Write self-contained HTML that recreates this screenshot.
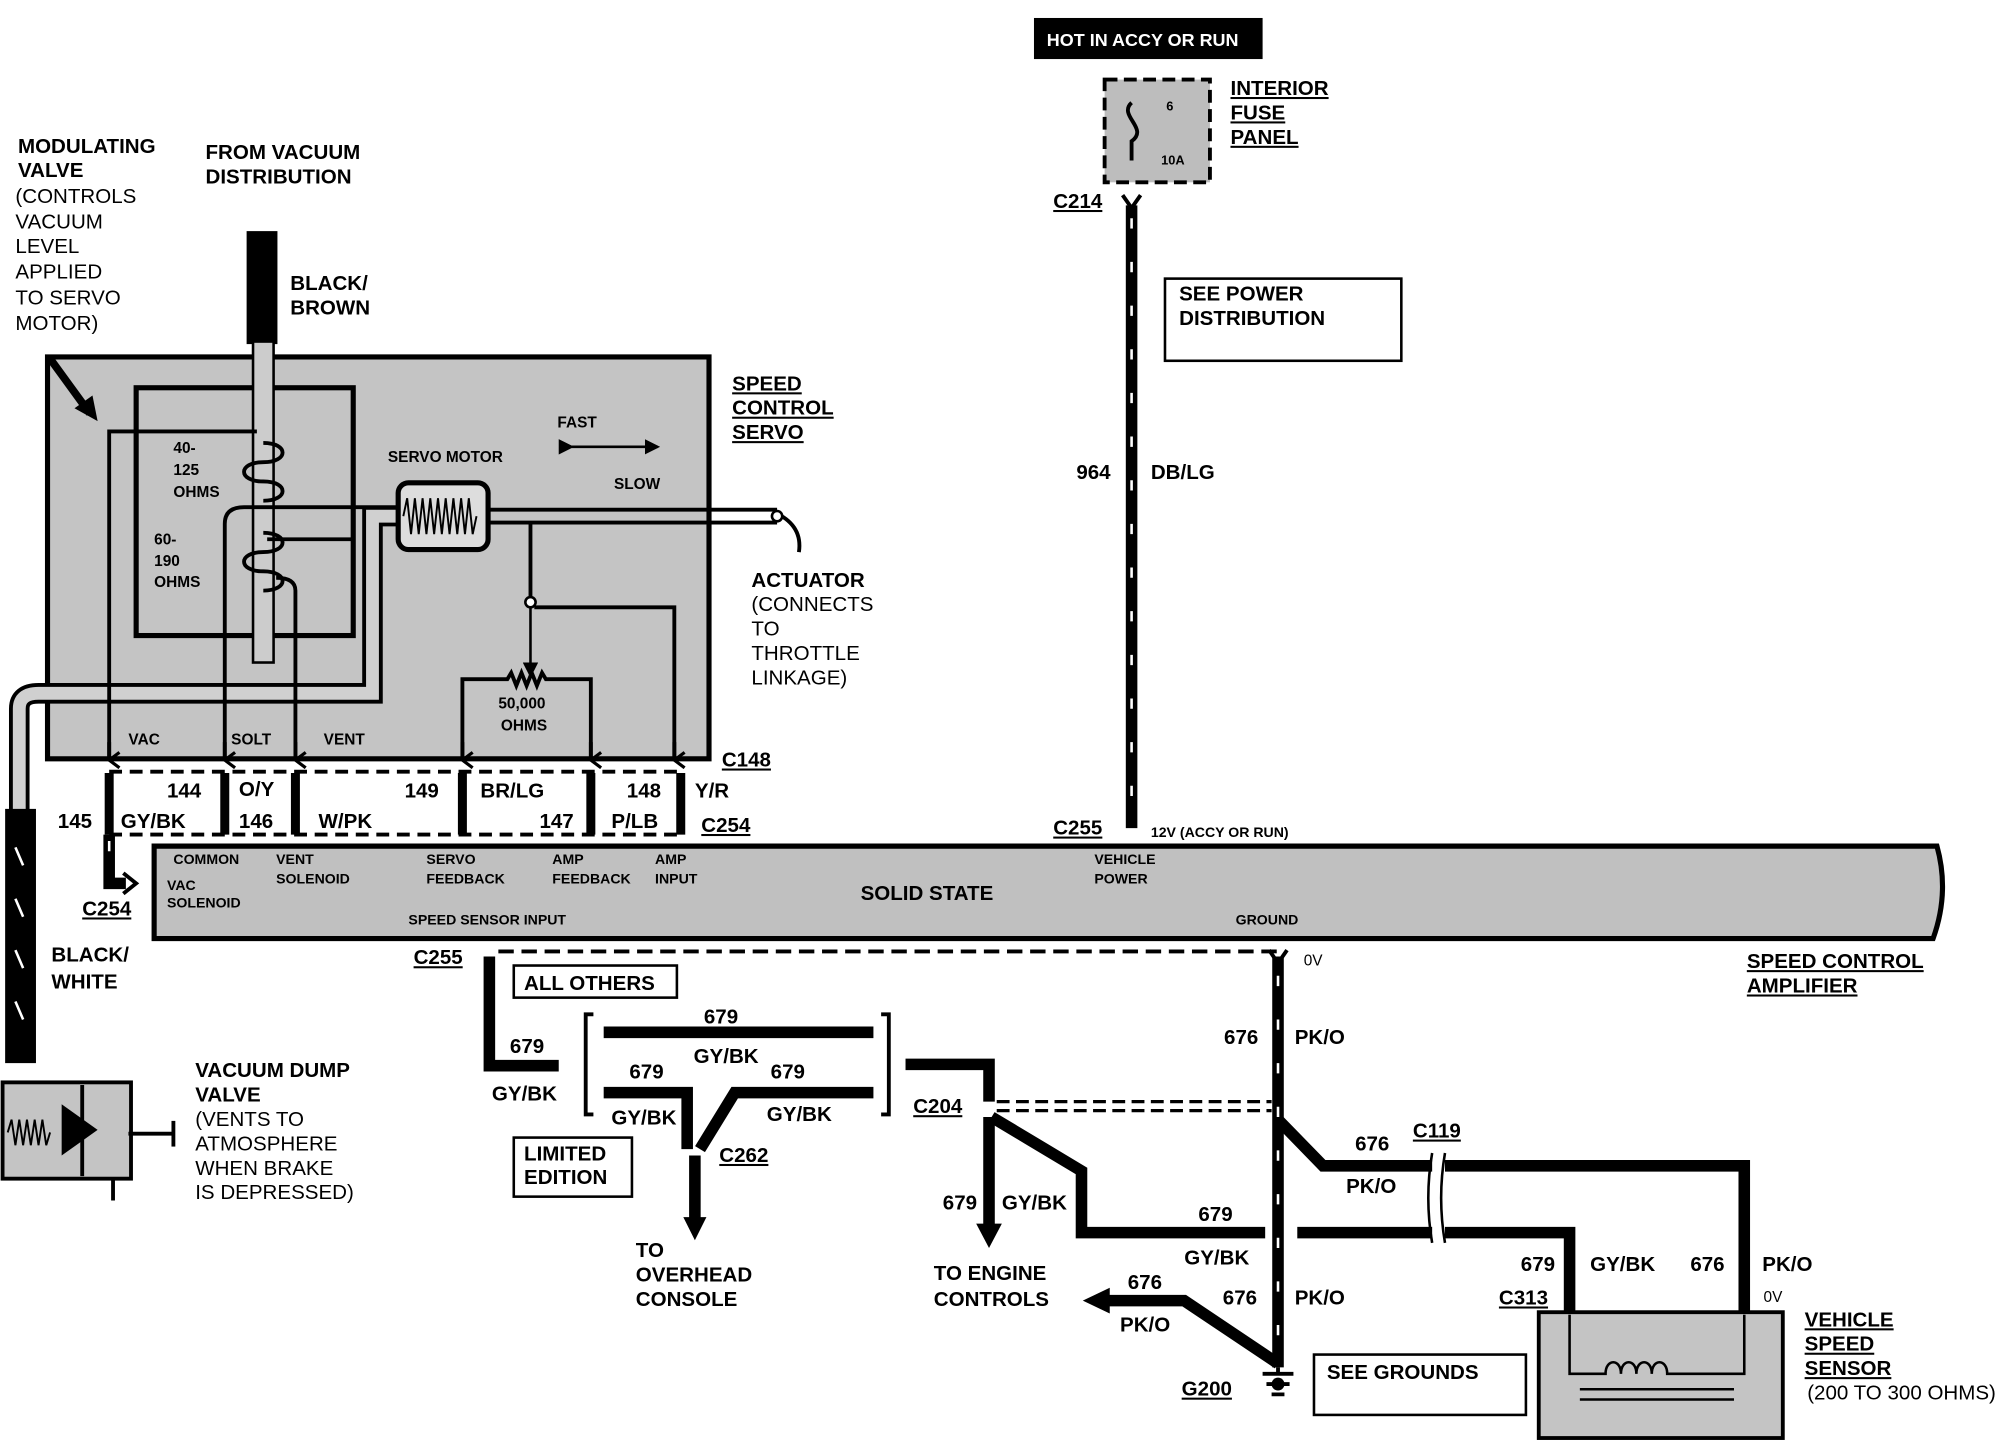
<!DOCTYPE html>
<html><head><meta charset="utf-8"><style>
html,body{margin:0;padding:0;background:#fff;}
svg{display:block;}
text{font-family:"Liberation Sans",sans-serif;font-weight:bold;fill:#000;}
.t{font-size:16px;}
.s{font-size:12px;}
.u{text-decoration:underline;}
.w{stroke:#000;stroke-width:9;fill:none;}
.d{stroke:#fff;stroke-width:2;fill:none;stroke-dasharray:8 26;}
.l{stroke:#000;stroke-width:3;fill:none;}
</style></head><body>
<svg width="2014" height="1456" viewBox="0 0 1568 1134" preserveAspectRatio="none">
<defs>
<marker id="ar" markerWidth="6" markerHeight="6" refX="5" refY="3" orient="auto" markerUnits="strokeWidth"><path d="M0,0 L6,3 L0,6 Z" fill="#000"/></marker>
<marker id="va" markerWidth="14" markerHeight="10" refX="7" refY="9" orient="auto" markerUnits="userSpaceOnUse"><path d="M1,1 L7,9 L13,1" stroke="#000" stroke-width="2.5" fill="none"/></marker>
</defs>

<!-- top -->
<rect x="805" y="14" width="178" height="32" fill="#000"/>
<text x="815" y="36" style="font-size:14px;fill:#fff">HOT IN ACCY OR RUN</text>
<rect x="860" y="62" width="82" height="80" fill="#bdbdbd" stroke="#000" stroke-width="3" stroke-dasharray="10 5"/>
<text x="908" y="86" class="s" style="font-size:10px">6</text>
<text x="904" y="128" class="s" style="font-size:10px">10A</text>
<path d="M881,80 C870,90 895,100 881,110 L881,125" class="l" stroke-width="2"/>
<text x="958" y="74" class="t u">INTERIOR</text>
<text x="958" y="93" class="t u">FUSE</text>
<text x="958" y="112" class="t u">PANEL</text>
<text x="820" y="162" class="t u">C214</text>
<path d="M874,152 L881,162 L888,152" class="l"/>
<line x1="881" y1="160" x2="881" y2="645" class="w"/>
<line x1="881" y1="170" x2="881" y2="645" class="d"/>
<rect x="907" y="217" width="184" height="64" fill="#fff" stroke="#000" stroke-width="2"/>
<text x="918" y="234" class="t">SEE POWER</text>
<text x="918" y="253" class="t">DISTRIBUTION</text>
<text x="838" y="373" class="t">964</text>
<text x="896" y="373" class="t">DB/LG</text>
<text x="820" y="650" class="t u">C255</text>
<text x="896" y="652" class="s" style="font-size:11px">12V (ACCY OR RUN)</text>

<!-- left text -->
<text x="14" y="119" class="t">MODULATING</text>
<text x="14" y="138" class="t">VALVE</text>
<text x="12" y="158" class="t" style="font-weight:normal">(CONTROLS</text>
<text x="12" y="178" class="t" style="font-weight:normal">VACUUM</text>
<text x="12" y="197" class="t" style="font-weight:normal">LEVEL</text>
<text x="12" y="217" class="t" style="font-weight:normal">APPLIED</text>
<text x="12" y="237" class="t" style="font-weight:normal">TO SERVO</text>
<text x="12" y="257" class="t" style="font-weight:normal">MOTOR)</text>
<text x="160" y="124" class="t">FROM VACUUM</text>
<text x="160" y="143" class="t">DISTRIBUTION</text>
<text x="226" y="226" class="t">BLACK/</text>
<text x="226" y="245" class="t">BROWN</text>

<!-- servo box -->
<rect x="37" y="278" width="515" height="313" fill="#c4c4c4" stroke="#000" stroke-width="4"/>
<path d="M38,278 L70,322" stroke="#000" stroke-width="6"/>
<path d="M76,328 L58,318 L72,308 Z" fill="#000"/>
<rect x="106" y="302" width="169" height="193" fill="none" stroke="#000" stroke-width="4"/>
<rect x="192" y="180" width="24" height="88" fill="#000"/>
<rect x="197" y="266" width="16" height="250" fill="#ccc" stroke="#000" stroke-width="2"/>
<path d="M205,345 c20,0 20,15 0,15 c-20,0 -20,15 0,15 c20,0 20,15 0,15" class="l"/>
<path d="M205,415 c20,0 20,15 0,15 c-20,0 -20,15 0,15 c20,0 20,15 0,15" class="l"/>
<text x="135" y="353" class="s">40-</text>
<text x="135" y="370" class="s">125</text>
<text x="135" y="387" class="s">OHMS</text>
<text x="120" y="424" class="s">60-</text>
<text x="120" y="441" class="s">190</text>
<text x="120" y="457" class="s">OHMS</text>
<!-- tube -->
<path d="M15,632 V552 Q15,540 30,540 H290 V402 H312" fill="none" stroke="#000" stroke-width="16"/>
<path d="M15,632 V552 Q15,540 30,540 H290 V402 H312" fill="none" stroke="#d0d0d0" stroke-width="10"/>
<!-- wires inside -->
<path d="M85,590 V336 H200" class="l"/>
<path d="M175,590 V408 Q175,395 190,395 H310" class="l"/>
<path d="M230,590 V460 Q230,450 215,450" class="l"/>
<path d="M208,420 H275" class="l"/>
<line x1="85" y1="578" x2="85" y2="592" class="l" marker-end="url(#va)"/>
<line x1="175" y1="578" x2="175" y2="592" class="l" marker-end="url(#va)"/>
<line x1="230" y1="578" x2="230" y2="592" class="l" marker-end="url(#va)"/>
<text x="100" y="580" class="s">VAC</text>
<text x="180" y="580" class="s">SOLT</text>
<text x="252" y="580" class="s">VENT</text>
<!-- servo motor -->
<rect x="310" y="376" width="70" height="52" rx="8" fill="#ddd" stroke="#000" stroke-width="4"/>
<path d="M314,402 l3,-14 l3,28 l3,-28 l3,28 l3,-28 l3,28 l3,-28 l3,28 l3,-28 l3,28 l3,-28 l3,28 l3,-28 l3,28 l3,-28 l3,28 l3,-28 l3,28 l3,-14" stroke="#000" stroke-width="1.5" fill="none"/>
<text x="302" y="360" class="s">SERVO MOTOR</text>
<text x="434" y="333" class="s">FAST</text>
<text x="478" y="381" class="s">SLOW</text>
<line x1="445" y1="348" x2="512" y2="348" stroke="#000" stroke-width="2" marker-end="url(#ar)" marker-start="url(#ar)"/>
<path d="M380,397 H605 M380,407 H605" class="l"/>
<path d="M605,400 Q625,410 622,430" class="l"/>
<circle cx="605" cy="402" r="4" fill="#fff" stroke="#000" stroke-width="2"/>
<path d="M413,408 V466" class="l"/>
<circle cx="413" cy="469" r="4" fill="#fff" stroke="#000" stroke-width="2"/>
<line x1="413" y1="473" x2="413" y2="526" stroke="#000" stroke-width="2" marker-end="url(#ar)"/>
<path d="M416,473 H525 V590" class="l"/>
<path d="M360,590 V529 H395 l3,-5 l4,10 l4,-10 l4,10 l4,-10 l4,10 l4,-10 l3,5 H460 V590" class="l"/>
<line x1="360" y1="578" x2="360" y2="592" class="l" marker-end="url(#va)"/>
<line x1="460" y1="578" x2="460" y2="592" class="l" marker-end="url(#va)"/>
<line x1="525" y1="578" x2="525" y2="592" class="l" marker-end="url(#va)"/>
<text x="388" y="552" class="s">50,000</text>
<text x="390" y="569" class="s">OHMS</text>
<text x="570" y="304" class="t u">SPEED</text>
<text x="570" y="323" class="t u">CONTROL</text>
<text x="570" y="342" class="t u">SERVO</text>
<text x="585" y="457" class="t">ACTUATOR</text>
<text x="585" y="476" class="t" style="font-weight:normal">(CONNECTS</text>
<text x="585" y="495" class="t" style="font-weight:normal">TO</text>
<text x="585" y="514" class="t" style="font-weight:normal">THROTTLE</text>
<text x="585" y="533" class="t" style="font-weight:normal">LINKAGE)</text>
<text x="562" y="597" class="t u">C148</text>

<!-- connector row -->
<path d="M85,601 H530 M85,650 H530" stroke="#000" stroke-width="3" stroke-dasharray="10 6"/>
<g stroke="#000" stroke-width="7">
<line x1="85" y1="602" x2="85" y2="650"/><line x1="175" y1="602" x2="175" y2="650"/>
<line x1="230" y1="602" x2="230" y2="650"/><line x1="360" y1="602" x2="360" y2="650"/>
<line x1="460" y1="602" x2="460" y2="650"/><line x1="530" y1="602" x2="530" y2="650"/>
</g>
<text x="130" y="621" class="t">144</text><text x="186" y="620" class="t">O/Y</text>
<text x="45" y="645" class="t">145</text><text x="94" y="645" class="t">GY/BK</text>
<text x="186" y="645" class="t">146</text><text x="248" y="645" class="t">W/PK</text>
<text x="315" y="621" class="t">149</text><text x="374" y="621" class="t">BR/LG</text>
<text x="420" y="645" class="t">147</text><text x="488" y="621" class="t">148</text>
<text x="476" y="645" class="t">P/LB</text><text x="541" y="621" class="t">Y/R</text>
<text x="546" y="648" class="t u">C254</text>
<path d="M85,650 V688 H98" class="w" stroke-width="7"/>
<line x1="85" y1="655" x2="85" y2="688" class="d"/>
<path d="M96,680 L106,688 L96,696" class="l"/>
<text x="64" y="713" class="t u">C254</text>

<!-- amplifier -->
<path d="M120,659 H1508 Q1518,695 1505,731 H120 Z" fill="#c0c0c0" stroke="#000" stroke-width="4"/>
<text x="135" y="673" class="s" style="font-size:11px">COMMON</text><text x="130" y="693" class="s" style="font-size:11px">VAC</text><text x="130" y="707" class="s" style="font-size:11px">SOLENOID</text>
<text x="215" y="673" class="s" style="font-size:11px">VENT</text><text x="215" y="688" class="s" style="font-size:11px">SOLENOID</text>
<text x="332" y="673" class="s" style="font-size:11px">SERVO</text><text x="332" y="688" class="s" style="font-size:11px">FEEDBACK</text>
<text x="430" y="673" class="s" style="font-size:11px">AMP</text><text x="430" y="688" class="s" style="font-size:11px">FEEDBACK</text>
<text x="510" y="673" class="s" style="font-size:11px">AMP</text><text x="510" y="688" class="s" style="font-size:11px">INPUT</text>
<text x="318" y="720" class="s" style="font-size:11px">SPEED SENSOR INPUT</text>
<text x="852" y="673" class="s" style="font-size:11px">VEHICLE</text><text x="852" y="688" class="s" style="font-size:11px">POWER</text>
<text x="962" y="720" class="s" style="font-size:11px">GROUND</text>
<text x="670" y="701" class="t">SOLID STATE</text>
<text x="1360" y="754" class="t u">SPEED CONTROL</text>
<text x="1360" y="773" class="t u">AMPLIFIER</text>

<!-- left black/white -->
<rect x="4" y="630" width="24" height="198" fill="#000"/>
<path d="M12,660 l6,14 M12,700 l6,14 M12,740 l6,14 M12,780 l6,14" stroke="#fff" stroke-width="2"/>
<text x="40" y="749" class="t">BLACK/</text>
<text x="40" y="770" class="t">WHITE</text>
<rect x="2" y="843" width="100" height="75" fill="#c4c4c4" stroke="#000" stroke-width="3"/>
<path d="M6,882 l3,-10 l3,20 l3,-20 l3,20 l3,-20 l3,20 l3,-20 l3,20 l3,-20 l3,20 l3,-10" stroke="#000" stroke-width="1.5" fill="none"/>
<path d="M48,860 L76,880 L48,900 Z" fill="#000"/>
<line x1="64" y1="845" x2="64" y2="916" class="l"/>
<line x1="100" y1="883" x2="135" y2="883" class="l"/>
<line x1="135" y1="873" x2="135" y2="893" class="l"/>
<line x1="88" y1="918" x2="88" y2="935" class="l"/>
<text x="152" y="839" class="t">VACUUM DUMP</text>
<text x="152" y="858" class="t">VALVE</text>
<text x="152" y="877" class="t" style="font-weight:normal">(VENTS TO</text>
<text x="152" y="896" class="t" style="font-weight:normal">ATMOSPHERE</text>
<text x="152" y="915" class="t" style="font-weight:normal">WHEN BRAKE</text>
<text x="152" y="934" class="t" style="font-weight:normal">IS DEPRESSED)</text>

<!-- bottom -->
<text x="322" y="751" class="t u">C255</text>
<path d="M388,741 H995" stroke="#000" stroke-width="3" stroke-dasharray="12 6"/>
<path d="M381,745 V830 H435" class="w" stroke-width="8"/>
<text x="397" y="820" class="t">679</text>
<text x="383" y="857" class="t">GY/BK</text>
<rect x="400" y="752" width="127" height="25" fill="#fff" stroke="#000" stroke-width="2"/>
<text x="408" y="771" class="t">ALL OTHERS</text>
<path d="M462,790 H456 V868 H462 M686,790 H692 V868 H686" class="l" stroke-width="2.5"/>
<path d="M470,804 H680" class="w" stroke-width="9"/>
<path d="M470,851 H535 V895 M680,851 H572 L545,895" class="w" stroke-width="9"/>
<line x1="541" y1="900" x2="541" y2="950" class="w" stroke-width="8"/>
<path d="M532,948 L550,948 L541,966 Z" fill="#000"/>
<text x="548" y="797" class="t">679</text><text x="540" y="828" class="t">GY/BK</text>
<text x="490" y="840" class="t">679</text><text x="600" y="840" class="t">679</text>
<text x="476" y="876" class="t">GY/BK</text><text x="597" y="873" class="t">GY/BK</text>
<rect x="400" y="886" width="92" height="46" fill="#fff" stroke="#000" stroke-width="2"/>
<text x="408" y="904" class="t">LIMITED</text><text x="408" y="922" class="t">EDITION</text>
<text x="560" y="905" class="t u">C262</text>
<text x="495" y="979" class="t">TO</text><text x="495" y="998" class="t">OVERHEAD</text><text x="495" y="1017" class="t">CONSOLE</text>

<path d="M705,829 H770 V858" class="w" stroke-width="8"/>
<text x="711" y="867" class="t u">C204</text>
<path d="M776,858 H990 M776,865 H990" stroke="#000" stroke-width="2.5" stroke-dasharray="10 5"/>
<line x1="770" y1="870" x2="770" y2="955" class="w" stroke-width="8"/>
<path d="M760,953 L780,953 L770,972 Z" fill="#000"/>
<path d="M772,870 L842,912 V960 H985 M1010,960 H1115" class="w" stroke-width="8"/>
<text x="734" y="942" class="t">679</text><text x="780" y="942" class="t">GY/BK</text>
<text x="933" y="951" class="t">679</text><text x="922" y="985" class="t">GY/BK</text>
<text x="727" y="997" class="t">TO ENGINE</text><text x="727" y="1017" class="t">CONTROLS</text>

<line x1="995" y1="745" x2="995" y2="1065" class="w" stroke-width="8"/>
<line x1="995" y1="760" x2="995" y2="1065" class="d"/>
<path d="M988,740 L995,750 L1002,740" class="l"/>
<text x="1015" y="752" class="s" style="font-weight:normal">0V</text>
<text x="953" y="813" class="t">676</text><text x="1008" y="813" class="t">PK/O</text>
<path d="M995,872 L1030,908 H1115 M1125,908 H1358 V1022 M1125,960 H1222 V1022" class="w" stroke-width="8"/>
<path d="M1115,898 q-6,35 0,70 M1125,898 q-6,35 0,70" stroke="#000" stroke-width="2" fill="none"/>
<text x="1055" y="896" class="t">676</text><text x="1100" y="886" class="t u">C119</text>
<text x="1048" y="929" class="t">PK/O</text>
<path d="M995,1062 L922,1013 H862" class="w" stroke-width="8"/>
<path d="M864,1003 L864,1023 L843,1013 Z" fill="#000"/>
<text x="878" y="1004" class="t">676</text><text x="872" y="1037" class="t">PK/O</text>
<text x="952" y="1016" class="t">676</text><text x="1008" y="1016" class="t">PK/O</text>
<path d="M983,1070 H1007 M986,1078 H1004 M990,1086 H1000 M995,1065 V1070" stroke="#000" stroke-width="3"/>
<circle cx="995" cy="1078" r="5" fill="#000"/>
<text x="920" y="1087" class="t u">G200</text>
<rect x="1023" y="1055" width="165" height="47" fill="#fff" stroke="#000" stroke-width="2"/>
<text x="1033" y="1074" class="t">SEE GROUNDS</text>
<text x="1184" y="990" class="t">679</text><text x="1238" y="990" class="t">GY/BK</text>
<text x="1316" y="990" class="t">676</text><text x="1372" y="990" class="t">PK/O</text>
<text x="1167" y="1016" class="t u">C313</text>
<text x="1373" y="1014" class="s" style="font-weight:normal">0V</text>
<rect x="1198" y="1022" width="190" height="98" fill="#c4c4c4" stroke="#000" stroke-width="3"/>
<path d="M1222,1024 V1070 H1250 c0,-12 12,-12 12,0 c0,-12 12,-12 12,0 c0,-12 12,-12 12,0 c0,-12 12,-12 12,0 H1358 V1024" stroke="#000" stroke-width="2" fill="none"/>
<path d="M1230,1082 H1350 M1230,1090 H1350" stroke="#000" stroke-width="2"/>
<text x="1405" y="1033" class="t u">VEHICLE</text>
<text x="1405" y="1052" class="t u">SPEED</text>
<text x="1405" y="1071" class="t u">SENSOR</text>
<text x="1407" y="1090" class="t" style="font-weight:normal">(200 TO 300 OHMS)</text>
</svg>
</body></html>
